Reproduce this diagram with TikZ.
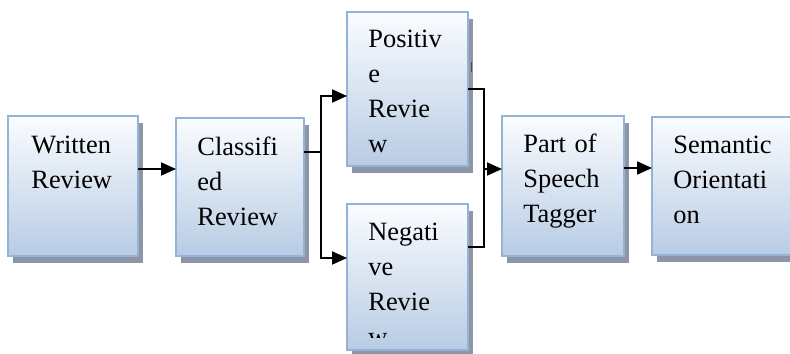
\documentclass[tikz,border=0pt]{standalone}
\usepackage{fontspec}
\setmainfont{Liberation Serif}
\newfontfamily\tnr{Liberation Serif}
\usetikzlibrary{arrows.meta,shadows}
\definecolor{boxtop}{RGB}{250,252,255}
\definecolor{boxbot}{RGB}{184,204,228}
\definecolor{boxborder}{RGB}{149,179,215}
\definecolor{shadowgray}{RGB}{140,150,166}
\tikzset{
  stagebox/.style={rectangle, anchor=north west, inner sep=0pt, outer sep=0pt,
    draw=boxborder, line width=1pt, top color=boxtop, bottom color=boxbot,
    drop shadow={fill=shadowgray, opacity=1, shadow xshift=2.5pt, shadow yshift=-3.5pt}},
  boxtext/.style={anchor=base west, inner sep=0pt, text width=80pt, align=left,
    font=\tnr\fontsize{13.2}{17.5}\selectfont},
  conn/.style={line width=1pt, black},
  arr/.style={conn, -{Triangle[length=7.5pt,width=6.5pt]}}
}
\begin{document}
\begin{tikzpicture}[x=0.5pt,y=-0.5pt]
\clip (0,0) rectangle (790,353);
\fill[white] (0,0) rectangle (790,353);
% boxes
\node[stagebox, minimum width=65pt, minimum height=70pt] (W) at (8,116) {};
\node[stagebox, minimum width=64pt, minimum height=69pt] (C) at (176,118) {};
\node[stagebox, minimum width=60.5pt, minimum height=77pt] (P) at (347,12) {};
\node[stagebox, minimum width=60.5pt, minimum height=73pt] (N) at (347,204) {};
\node[stagebox, minimum width=61pt, minimum height=70pt] (T) at (502,116) {};
\node[stagebox, minimum width=74pt, minimum height=69pt] (S) at (652,117) {};
% texts
\node[boxtext] (Wt) at (31,153) {Written\\Review};
\node[boxtext] (Ct) at (197,155) {Classifi\\ed\\Review};
\node[boxtext] (Pt) at (368,47) {Positiv\\e\\Revie\\w};
\begin{scope}
\clip (347,204) rectangle (468,337);
\node[boxtext] (Nt) at (368,240) {Negati\\ve\\Revie\\w};
\end{scope}
\node[boxtext] (Tt) at (523,152) {Part of\\Speech\\Tagger};
\node[boxtext] (St) at (673,153) {Semantic\\Orientati\\on};
% small stray mark
\draw[line width=0.4pt, black!70] (471,62) -- (471,72);
% connectors
\draw[arr] ([yshift=8.5pt]W.east) -- ([yshift=8.5pt]W.east -| C.west);
\draw[conn] ([yshift=17.5pt]C.east) -- ++(8.5pt,0) coordinate (cb);
\coordinate (pa) at ([yshift=-3.5pt]P.west);
\coordinate (na) at ([yshift=9.5pt]N.west);
\draw[arr] (cb) |- (pa);
\draw[arr] (cb) |- (na);
\draw[conn] (P.east) -- ++(8pt,0) coordinate (mx) |- ([yshift=15pt]N.east);
\coordinate (ti) at ([yshift=8.5pt]T.west);
\draw[arr] (mx |- ti) -- (ti);
\draw[arr] ([yshift=9pt]T.east) -- ([yshift=9pt]T.east -| S.west);
\end{tikzpicture}
\end{document}
